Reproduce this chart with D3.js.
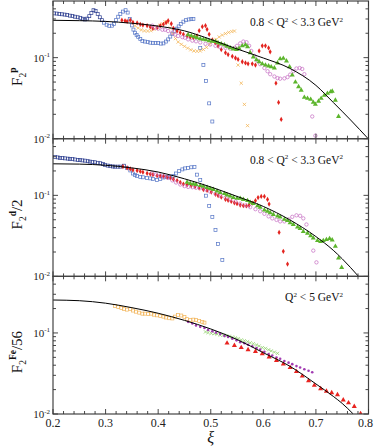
<!DOCTYPE html>
<html><head><meta charset="utf-8">
<script src="https://cdn.jsdelivr.net/npm/d3@7"></script>
<style>html,body{margin:0;padding:0;background:#fff}svg{display:block}</style>
</head><body><svg id="c" width="374" height="447"></svg>
<script>
// ---------- data ----------
const xTickValues = [0.2,0.3,0.4,0.5,0.6,0.7,0.8];
const xTickLabels = ["0.2","0.3","0.4","0.5","0.6","0.7","0.8"];
const yMajorTicks = [0.01,0.1];
const yTickLabels = [["10","-2"],["10","-1"]];
const panelTexts = [["0.8 < Q","2"," < 3.3 GeV","2"],["0.8 < Q","2"," < 3.3 GeV","2"],["Q","2"," < 5 GeV","2"]];
const yTitles = [["F","2","p",""],["F","2","d","/2"],["F","2","Fe","/56"]];
const xTitle = "ξ";

// Panel 1: proton
const p1Curve = [[0.2,0.289],[0.25,0.286],[0.3,0.28],[0.35,0.266],[0.4,0.245],[0.45,0.214],[0.5,0.168],[0.55,0.128],[0.6,0.099],[0.65,0.074],[0.7,0.0455],[0.733,0.028],[0.766,0.017],[0.8,0.0099]];
const p1Navy = [[0.202,0.352],[0.207,0.35],[0.212,0.346],[0.217,0.343],[0.222,0.34],[0.227,0.335],[0.232,0.33],[0.237,0.326],[0.242,0.32],[0.247,0.315],[0.252,0.31],[0.257,0.302],[0.261,0.296],[0.265,0.303],[0.269,0.325],[0.273,0.355],[0.277,0.385],[0.281,0.375],[0.285,0.345],[0.289,0.315],[0.293,0.29]];
const p1Blue = [[0.297,0.27],[0.302,0.255],[0.307,0.247],[0.312,0.248],[0.316,0.26],[0.320,0.29],[0.324,0.32],[0.328,0.345],[0.333,0.37],[0.338,0.385],[0.342,0.36],[0.346,0.3],[0.350,0.25],[0.353,0.222],[0.356,0.203],[0.359,0.19],[0.362,0.181],[0.366,0.17],[0.370,0.161],[0.375,0.158],[0.380,0.156],[0.385,0.153],[0.390,0.152],[0.395,0.152],[0.400,0.151],[0.405,0.149],[0.410,0.15],[0.415,0.158],[0.419,0.168],[0.423,0.182],[0.427,0.197],[0.431,0.213],[0.435,0.228],[0.439,0.243],[0.443,0.26],[0.448,0.278],[0.453,0.29],[0.458,0.296],[0.463,0.3],[0.467,0.3],[0.480,0.132],[0.486,0.081],[0.491,0.0513],[0.497,0.0273],[0.503,0.0163]];
const p1Orange = [[0.356,0.248],[0.362,0.232],[0.368,0.22],[0.374,0.214],[0.380,0.213],[0.386,0.215],[0.392,0.224],[0.398,0.238],[0.403,0.25],[0.408,0.262],[0.413,0.278],[0.418,0.27],[0.423,0.232],[0.428,0.198],[0.433,0.172],[0.438,0.156],[0.444,0.146],[0.450,0.138],[0.456,0.131],[0.462,0.125],[0.468,0.121],[0.474,0.12],[0.480,0.121],[0.486,0.126],[0.492,0.134],[0.498,0.146],[0.504,0.157],[0.510,0.168],[0.516,0.18],[0.522,0.19],[0.528,0.198],[0.534,0.205],[0.540,0.21],[0.545,0.213],[0.552,0.081],[0.558,0.0484],[0.564,0.0265],[0.570,0.0145]];
const p1Red = [[0.331,0.29],[0.337,0.285],[0.341,0.28],[0.347,0.29],[0.352,0.273],[0.360,0.268],[0.366,0.258],[0.371,0.252],[0.379,0.248],[0.385,0.239],[0.390,0.230],[0.398,0.234],[0.404,0.248],[0.410,0.258],[0.415,0.27],[0.419,0.286],[0.425,0.262],[0.429,0.230],[0.436,0.213],[0.442,0.203],[0.448,0.194],[0.455,0.185],[0.461,0.179],[0.467,0.176],[0.474,0.186],[0.478,0.215],[0.484,0.241],[0.490,0.248],[0.493,0.224],[0.497,0.194],[0.503,0.166],[0.509,0.152],[0.514,0.139],[0.520,0.126],[0.528,0.115],[0.533,0.109],[0.541,0.104],[0.547,0.099],[0.552,0.095],[0.560,0.089],[0.566,0.086],[0.571,0.084],[0.579,0.084],[0.585,0.081],[0.592,0.121],[0.598,0.140],[0.604,0.140],[0.610,0.132],[0.613,0.118],[0.624,0.0484],[0.629,0.028],[0.634,0.0173]];
const p1Magenta = [[0.389,0.248],[0.394,0.234],[0.400,0.228],[0.408,0.221],[0.413,0.221],[0.419,0.213],[0.427,0.203],[0.432,0.192],[0.438,0.185],[0.446,0.179],[0.451,0.176],[0.457,0.168],[0.465,0.162],[0.472,0.159],[0.480,0.154],[0.490,0.148],[0.499,0.145],[0.509,0.140],[0.518,0.136],[0.528,0.132],[0.537,0.129],[0.545,0.132],[0.550,0.140],[0.556,0.150],[0.562,0.158],[0.568,0.155],[0.573,0.140],[0.577,0.121],[0.583,0.105],[0.589,0.091],[0.594,0.083],[0.602,0.0745],[0.608,0.068],[0.613,0.0625],[0.621,0.0585],[0.627,0.0559],[0.632,0.055],[0.640,0.0555],[0.646,0.0575],[0.651,0.0618],[0.657,0.068],[0.663,0.0735],[0.669,0.0745],[0.674,0.0725],[0.678,0.0625],[0.693,0.0188],[0.699,0.0109]];
const p1Green = [[0.457,0.192],[0.463,0.186],[0.469,0.181],[0.474,0.176],[0.480,0.171],[0.486,0.168],[0.491,0.166],[0.497,0.161],[0.503,0.159],[0.509,0.158],[0.514,0.152],[0.520,0.148],[0.526,0.144],[0.531,0.138],[0.537,0.132],[0.543,0.128],[0.549,0.126],[0.554,0.130],[0.560,0.140],[0.566,0.144],[0.570,0.136],[0.575,0.115],[0.581,0.102],[0.587,0.094],[0.592,0.089],[0.598,0.084],[0.604,0.081],[0.610,0.079],[0.615,0.077],[0.621,0.0745],[0.627,0.086],[0.632,0.0965],[0.638,0.098],[0.644,0.091],[0.650,0.077],[0.655,0.0609],[0.661,0.050],[0.667,0.0438],[0.672,0.0396],[0.678,0.0324],[0.684,0.0315],[0.690,0.0306],[0.695,0.0281],[0.699,0.0265],[0.705,0.029],[0.710,0.0315],[0.716,0.0343],[0.722,0.0363],[0.728,0.0379],[0.731,0.0385],[0.737,0.0298],[0.743,0.0188]];

// Panel 2: deuteron
const p2Curve = [[0.2,0.245],[0.25,0.243],[0.3,0.235],[0.35,0.218],[0.4,0.194],[0.45,0.16],[0.5,0.127],[0.55,0.097],[0.6,0.073],[0.65,0.05],[0.7,0.031],[0.733,0.021],[0.75,0.0165],[0.781,0.01]];
const p2Navy = [[0.204,0.297],[0.209,0.294],[0.213,0.29],[0.218,0.288],[0.223,0.286],[0.228,0.284],[0.232,0.282],[0.237,0.28],[0.242,0.277],[0.247,0.274],[0.251,0.272],[0.256,0.27],[0.261,0.268],[0.266,0.264],[0.270,0.261],[0.275,0.258],[0.280,0.256],[0.285,0.252],[0.290,0.249],[0.295,0.243],[0.299,0.238],[0.304,0.233],[0.309,0.229],[0.314,0.227],[0.318,0.226],[0.323,0.226],[0.328,0.226],[0.335,0.232]];
const p2Blue = [[0.341,0.218],[0.347,0.203],[0.352,0.186],[0.356,0.178],[0.360,0.173],[0.366,0.168],[0.371,0.167],[0.379,0.164],[0.385,0.162],[0.390,0.159],[0.398,0.155],[0.404,0.159],[0.410,0.166],[0.417,0.168],[0.423,0.168],[0.429,0.173],[0.434,0.186],[0.440,0.2],[0.446,0.209],[0.451,0.215],[0.457,0.218],[0.463,0.222],[0.469,0.223],[0.474,0.180],[0.480,0.155],[0.486,0.125],[0.491,0.099],[0.497,0.074],[0.503,0.054],[0.509,0.0374],[0.514,0.025],[0.522,0.016]];
const p2Red = [[0.333,0.226],[0.341,0.218],[0.347,0.212],[0.352,0.206],[0.360,0.202],[0.366,0.197],[0.371,0.193],[0.379,0.187],[0.385,0.183],[0.390,0.180],[0.398,0.175],[0.404,0.173],[0.410,0.172],[0.417,0.167],[0.423,0.164],[0.429,0.158],[0.436,0.152],[0.442,0.145],[0.448,0.138],[0.455,0.135],[0.463,0.132],[0.470,0.128],[0.478,0.123],[0.486,0.118],[0.493,0.115],[0.501,0.110],[0.509,0.103],[0.514,0.099],[0.520,0.095],[0.528,0.089],[0.533,0.087],[0.539,0.084],[0.545,0.081],[0.550,0.079],[0.556,0.076],[0.562,0.0745],[0.568,0.074],[0.573,0.0755],[0.579,0.080],[0.585,0.086],[0.590,0.094],[0.596,0.097],[0.602,0.097],[0.608,0.089],[0.611,0.078],[0.630,0.0349],[0.638,0.0204],[0.646,0.0142]];
const p2Magenta = [[0.389,0.187],[0.396,0.181],[0.404,0.176],[0.411,0.172],[0.419,0.164],[0.427,0.153],[0.434,0.144],[0.442,0.136],[0.450,0.130],[0.457,0.127],[0.465,0.126],[0.472,0.124],[0.480,0.123],[0.490,0.118],[0.499,0.111],[0.509,0.105],[0.518,0.099],[0.528,0.094],[0.537,0.089],[0.547,0.084],[0.556,0.079],[0.566,0.075],[0.575,0.0715],[0.585,0.0675],[0.594,0.0637],[0.602,0.0592],[0.610,0.055],[0.617,0.052],[0.625,0.0498],[0.632,0.0477],[0.640,0.0477],[0.648,0.0505],[0.655,0.0543],[0.663,0.0567],[0.670,0.0559],[0.676,0.052],[0.682,0.0437],[0.695,0.0208],[0.701,0.0149]];
const p2Green = [[0.455,0.145],[0.461,0.140],[0.467,0.138],[0.472,0.136],[0.480,0.132],[0.486,0.129],[0.493,0.125],[0.499,0.121],[0.505,0.118],[0.512,0.113],[0.518,0.108],[0.526,0.105],[0.531,0.101],[0.537,0.098],[0.543,0.094],[0.550,0.092],[0.556,0.092],[0.562,0.089],[0.570,0.086],[0.575,0.082],[0.581,0.079],[0.589,0.0745],[0.594,0.071],[0.602,0.066],[0.608,0.0637],[0.613,0.061],[0.619,0.058],[0.627,0.0555],[0.632,0.054],[0.640,0.0505],[0.646,0.0490],[0.651,0.046],[0.657,0.0437],[0.665,0.0406],[0.670,0.0390],[0.676,0.0357],[0.684,0.0341],[0.690,0.0318],[0.695,0.0297],[0.703,0.0277],[0.709,0.0269],[0.714,0.0277],[0.720,0.0285],[0.726,0.0293],[0.731,0.0281],[0.737,0.0235],[0.743,0.0168],[0.749,0.0129]];

// Panel 3: iron
const p3Curve = [[0.2,0.255],[0.25,0.25],[0.3,0.233],[0.35,0.205],[0.4,0.175],[0.45,0.143],[0.5,0.112],[0.55,0.083],[0.6,0.057],[0.65,0.039],[0.7,0.0235],[0.733,0.0165],[0.75,0.0135],[0.771,0.01]];
const p3Orange = [[0.318,0.215],[0.324,0.209],[0.330,0.203],[0.335,0.197],[0.341,0.194],[0.347,0.197],[0.352,0.189],[0.358,0.183],[0.364,0.178],[0.370,0.173],[0.375,0.173],[0.381,0.171],[0.387,0.173],[0.392,0.168],[0.398,0.165],[0.404,0.162],[0.410,0.159],[0.415,0.155],[0.421,0.152],[0.427,0.151],[0.432,0.159],[0.438,0.166],[0.444,0.164],[0.450,0.158],[0.455,0.148],[0.461,0.144],[0.467,0.146],[0.472,0.144],[0.478,0.140],[0.484,0.137],[0.488,0.134]];
const p3Green = [[0.490,0.103],[0.495,0.101],[0.501,0.099],[0.507,0.098],[0.512,0.097],[0.518,0.094],[0.524,0.094],[0.530,0.092],[0.535,0.091],[0.541,0.089],[0.547,0.087],[0.552,0.085],[0.558,0.082],[0.564,0.080],[0.570,0.078],[0.575,0.0755],[0.581,0.0735],[0.587,0.071],[0.592,0.069],[0.598,0.066],[0.604,0.0645],[0.610,0.062],[0.615,0.060],[0.621,0.058],[0.627,0.056]];
const p3Purple = [[0.457,0.137],[0.465,0.131],[0.472,0.124],[0.480,0.119],[0.488,0.115],[0.495,0.109],[0.503,0.105],[0.510,0.101],[0.518,0.097],[0.526,0.092],[0.533,0.089],[0.541,0.085],[0.549,0.081],[0.556,0.077],[0.564,0.0745],[0.571,0.0715],[0.579,0.0684],[0.587,0.0653],[0.594,0.0622],[0.602,0.0587],[0.610,0.055],[0.617,0.0527],[0.625,0.0498],[0.632,0.048],[0.640,0.045],[0.648,0.043],[0.655,0.0412],[0.663,0.0390],[0.670,0.0374],[0.678,0.0357],[0.686,0.0341],[0.693,0.0328]];
const p3Red = [[0.531,0.075],[0.545,0.070],[0.558,0.066],[0.571,0.062],[0.585,0.059],[0.598,0.0554],[0.611,0.0505],[0.625,0.0457],[0.638,0.0412],[0.651,0.0374],[0.663,0.0333],[0.674,0.0293],[0.686,0.0257],[0.697,0.0226],[0.709,0.0205],[0.720,0.0191],[0.730,0.0183],[0.741,0.0173],[0.752,0.0149],[0.762,0.0137],[0.773,0.0124],[0.785,0.0101]];

// ---------- styles / layout ----------
const X0 = 53, X1 = 368.5;
const panelTop = [1, 138.7, 276.3], panelH = 137.7;
const FONT = "'Liberation Serif','DejaVu Serif',serif";

const panels = [
  {curve: p1Curve, series: [
    {d: p1Navy, sym: "sq", c: "#2c3d8f"},
    {d: p1Blue, sym: "sq", c: "#5575c6"},
    {d: p1Orange, sym: "x", c: "#f4b658"},
    {d: p1Red, sym: "dia", c: "#e3241f"},
    {d: p1Magenta, sym: "circ", c: "#c46ac2"},
    {d: p1Green, sym: "tri", c: "#5cb52c"}]},
  {curve: p2Curve, series: [
    {d: p2Navy, sym: "sq", c: "#2c3d8f"},
    {d: p2Blue, sym: "sq", c: "#5575c6"},
    {d: p2Red, sym: "dia", c: "#e3241f"},
    {d: p2Magenta, sym: "circ", c: "#c46ac2"},
    {d: p2Green, sym: "tri", c: "#5cb52c"}]},
  {curve: p3Curve, series: [
    {d: p3Orange, sym: "sq", c: "#f2b458"},
    {d: p3Green, sym: "x", c: "#92d06e"},
    {d: p3Purple, sym: "dot", c: "#a23cb2"},
    {d: p3Red, sym: "tri", c: "#e8231f"}]}
];

const svg = d3.select("#c");
const x = d3.scaleLinear().domain([0.2, 0.8]).range([X0, X1]);
const xMinor = d3.range(0.2, 0.8001, 0.02).map(v => +v.toFixed(2));
const yMinor = [0.02,0.03,0.04,0.05,0.06,0.07,0.08,0.09,0.2,0.3,0.4];

function drawSym(g, sym, col) {
  if (sym === "sq") {
    g.append("rect").attr("x",-1.5).attr("y",-1.5).attr("width",3).attr("height",3)
      .attr("fill","none").attr("stroke",col).attr("stroke-width",0.7);
  } else if (sym === "circ") {
    g.append("circle").attr("r",1.7).attr("fill","none").attr("stroke",col).attr("stroke-width",0.7);
  } else if (sym === "x") {
    g.append("path").attr("d","M-1.6,-1.6L1.6,1.6M-1.6,1.6L1.6,-1.6").attr("stroke",col).attr("stroke-width",0.8).attr("fill","none");
  } else if (sym === "dia") {
    g.append("path").attr("d", d3.symbol(d3.symbolDiamond, 8)()).attr("fill",col);
  } else if (sym === "tri") {
    g.append("path").attr("d", d3.symbol(d3.symbolTriangle, 11)()).attr("fill",col);
  } else if (sym === "dot") {
    g.append("circle").attr("r",1.3).attr("fill",col);
  }
}

panels.forEach((p, i) => {
  const top = panelTop[i], bot = top + panelH;
  const y = d3.scaleLog().domain([0.01, 0.5]).range([bot, top]);
  const g = svg.append("g");
  const clipId = "clip" + i;
  svg.append("clipPath").attr("id", clipId).append("rect")
    .attr("x", X0).attr("y", top).attr("width", X1 - X0).attr("height", panelH);

  const dg = g.append("g").attr("clip-path", `url(#${clipId})`);
  p.series.forEach(s => {
    dg.selectAll(null).data(s.d).enter().append("g")
      .attr("transform", d => `translate(${x(d[0])},${y(d[1])})`)
      .each(function() { drawSym(d3.select(this), s.sym, s.c); });
  });
  dg.append("path").datum(p.curve)
    .attr("d", d3.line().x(d => x(d[0])).y(d => y(d[1])).curve(d3.curveMonotoneX))
    .attr("fill", "none").attr("stroke", "#000").attr("stroke-width", 1);

  g.append("rect").attr("x", X0).attr("y", top).attr("width", X1 - X0).attr("height", panelH)
    .attr("fill", "none").attr("stroke", "#444").attr("stroke-width", 1.2);

  const tk = g.append("g").attr("stroke", "#333").attr("stroke-width", 0.9);
  xMinor.forEach(v => {
    const major = xTickValues.some(t => Math.abs(t - v) < 1e-6);
    const L = major ? 5 : 3;
    tk.append("line").attr("x1", x(v)).attr("x2", x(v)).attr("y1", bot).attr("y2", bot - L);
    tk.append("line").attr("x1", x(v)).attr("x2", x(v)).attr("y1", top).attr("y2", top + L);
  });
  yMajorTicks.concat(yMinor).forEach(v => {
    const major = yMajorTicks.includes(v);
    const L = major ? 5 : 3;
    tk.append("line").attr("x1", X0).attr("x2", X0 + L).attr("y1", y(v)).attr("y2", y(v));
    tk.append("line").attr("x1", X1).attr("x2", X1 - L).attr("y1", y(v)).attr("y2", y(v));
  });
  yMajorTicks.forEach((v, k) => {
    const t = g.append("text").attr("x", 50).attr("y", y(v) + 4).attr("text-anchor", "end")
      .attr("font-family", FONT).attr("font-size", 11).attr("fill", "#222");
    t.append("tspan").text(yTickLabels[k][0]);
    t.append("tspan").attr("dy", -4.5).attr("font-size", 7).text(yTickLabels[k][1]);
  });
  const a = panelTexts[i];
  const at = g.append("text").attr("x", 343).attr("y", top + 25).attr("text-anchor", "end")
    .attr("font-family", FONT).attr("font-size", 11.5).attr("fill", "#111");
  at.append("tspan").text(a[0]);
  at.append("tspan").attr("dy", -4.5).attr("font-size", 7).text(a[1]);
  at.append("tspan").attr("dy", 4.5).text(a[2]);
  at.append("tspan").attr("dy", -4.5).attr("font-size", 7).text(a[3]);

  const yt = yTitles[i];
  const cy = top + panelH * 0.55;
  const tt = svg.append("text").attr("transform", `translate(22,${cy}) rotate(-90)`)
    .attr("text-anchor", "middle").attr("font-family", FONT).attr("font-size", 15).attr("fill", "#111");
  tt.append("tspan").text(yt[0]);
  tt.append("tspan").attr("dy", 4).attr("font-size", 9.5).text(yt[1]);
  tt.append("tspan").attr("dy", -10).attr("font-size", 9.5).attr("font-weight", "bold").text(yt[2]);
  if (yt[3]) tt.append("tspan").attr("dy", 6).text(yt[3]);

  if (i === 2) {
    xTickValues.forEach((v, k) => {
      const last = k === xTickValues.length - 1;
      svg.append("text").attr("x", last ? 373 : x(v)).attr("y", bot + 13)
        .attr("text-anchor", last ? "end" : "middle")
        .attr("font-family", FONT).attr("font-size", 12).attr("fill", "#222").text(xTickLabels[k]);
    });
    svg.append("text").attr("x", x(0.5)).attr("y", bot + 29).attr("text-anchor", "middle")
      .attr("font-family", FONT).attr("font-size", 16).attr("font-style", "italic").attr("fill", "#111").text(xTitle);
  }
});
</script></body></html>
